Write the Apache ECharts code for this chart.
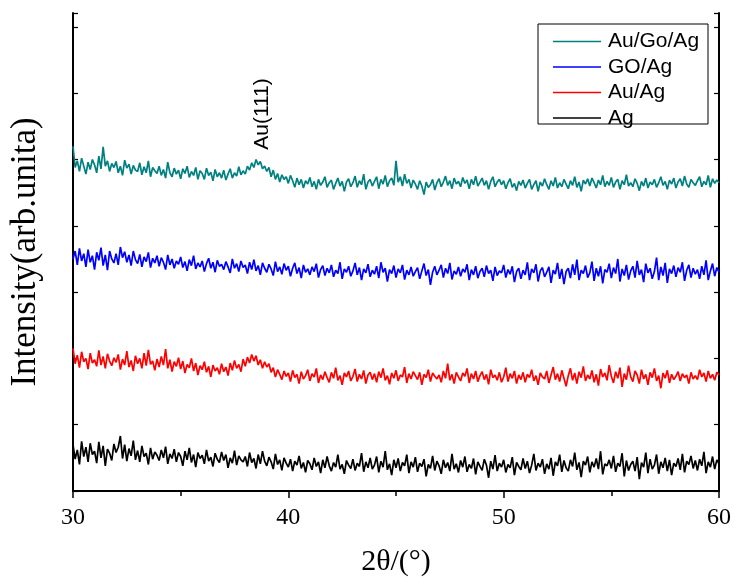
<!DOCTYPE html>
<html>
<head>
<meta charset="utf-8">
<script src="https://cdn.jsdelivr.net/npm/echarts@6/dist/echarts.min.js"></script>
<style>
  html, body { margin: 0; padding: 0; background: #fff; }
  #chart { width: 734px; height: 578px; }
</style>
</head>
<body>
<div id="chart"></div>
<script>
// 2theta grid (deg)
var twoTheta = [
  30.0,30.1,30.2,30.3,30.4,30.5,30.6,30.7,30.8,30.9,
  31.0,31.1,31.2,31.3,31.4,31.5,31.6,31.7,31.8,31.9,
  32.0,32.1,32.2,32.3,32.4,32.5,32.6,32.7,32.8,32.9,
  33.0,33.1,33.2,33.3,33.4,33.5,33.6,33.7,33.8,33.9,
  34.0,34.1,34.2,34.3,34.4,34.5,34.6,34.7,34.8,34.9,
  35.0,35.1,35.2,35.3,35.4,35.5,35.6,35.7,35.8,35.9,
  36.0,36.1,36.2,36.3,36.4,36.5,36.6,36.7,36.8,36.9,
  37.0,37.1,37.2,37.3,37.4,37.5,37.6,37.7,37.8,37.9,
  38.0,38.1,38.2,38.3,38.4,38.5,38.6,38.7,38.8,38.9,
  39.0,39.1,39.2,39.3,39.4,39.5,39.6,39.7,39.8,39.9,
  40.0,40.1,40.2,40.3,40.4,40.5,40.6,40.7,40.8,40.9,
  41.0,41.1,41.2,41.3,41.4,41.5,41.6,41.7,41.8,41.9,
  42.0,42.1,42.2,42.3,42.4,42.5,42.6,42.7,42.8,42.9,
  43.0,43.1,43.2,43.3,43.4,43.5,43.6,43.7,43.8,43.9,
  44.0,44.1,44.2,44.3,44.4,44.5,44.6,44.7,44.8,44.9,
  45.0,45.1,45.2,45.3,45.4,45.5,45.6,45.7,45.8,45.9,
  46.0,46.1,46.2,46.3,46.4,46.5,46.6,46.7,46.8,46.9,
  47.0,47.1,47.2,47.3,47.4,47.5,47.6,47.7,47.8,47.9,
  48.0,48.1,48.2,48.3,48.4,48.5,48.6,48.7,48.8,48.9,
  49.0,49.1,49.2,49.3,49.4,49.5,49.6,49.7,49.8,49.9,
  50.0,50.1,50.2,50.3,50.4,50.5,50.6,50.7,50.8,50.9,
  51.0,51.1,51.2,51.3,51.4,51.5,51.6,51.7,51.8,51.9,
  52.0,52.1,52.2,52.3,52.4,52.5,52.6,52.7,52.8,52.9,
  53.0,53.1,53.2,53.3,53.4,53.5,53.6,53.7,53.8,53.9,
  54.0,54.1,54.2,54.3,54.4,54.5,54.6,54.7,54.8,54.9,
  55.0,55.1,55.2,55.3,55.4,55.5,55.6,55.7,55.8,55.9,
  56.0,56.1,56.2,56.3,56.4,56.5,56.6,56.7,56.8,56.9,
  57.0,57.1,57.2,57.3,57.4,57.5,57.6,57.7,57.8,57.9,
  58.0,58.1,58.2,58.3,58.4,58.5,58.6,58.7,58.8,58.9,
  59.0,59.1,59.2,59.3,59.4,59.5,59.6,59.7,59.8,59.9,
  60.0
];

// intensities, already offset for the stacked display
var auGoAg = [
  520,488,498,482,502,490,478,496,485,500,
  492,480,505,486,519,490,498,482,494,488,
  497,480,490,476,499,487,493,478,491,484,
  482,495,477,489,480,498,474,488,483,479,
  490,476,485,472,496,480,474,487,478,484,
  471,486,479,490,473,482,476,488,470,483,
  479,470,487,476,481,468,485,474,480,472,
  484,469,478,486,472,480,475,489,477,483,
  478,490,484,495,488,500,492,497,486,490,
  482,488,474,484,470,479,466,477,470,474,
  464,476,468,458,472,462,470,457,468,463,
  473,459,467,455,470,461,466,474,458,465,
  469,455,464,472,460,467,452,466,471,459,
  465,475,458,468,462,478,455,466,470,460,
  467,474,456,470,463,476,459,468,472,461,
  498,466,474,460,478,464,470,457,469,463,
  455,468,460,447,466,458,462,470,454,465,
  471,459,466,475,461,468,456,472,463,467,
  459,473,464,469,456,470,462,475,460,466,
  472,461,468,455,467,474,459,466,470,462,
  468,456,465,471,458,464,453,467,461,469,
  457,464,470,455,462,468,452,466,460,471,
  462,455,468,460,473,457,465,459,470,463,
  456,468,461,474,458,466,452,469,463,471,
  460,472,465,457,469,462,476,459,467,461,
  473,458,466,470,455,468,462,477,460,465,
  459,471,464,453,467,460,472,457,466,462,
  470,458,465,474,461,467,455,469,463,472,
  457,466,471,460,475,463,458,470,465,461,
  468,474,459,467,462,476,458,471,464,469,
  465
];

var goAg = [
  350,362,341,366,347,358,338,364,345,355,
  334,360,348,367,340,356,333,362,350,344,
  358,341,368,352,361,345,356,340,362,349,
  343,357,338,353,346,360,337,351,344,355,
  339,352,345,334,356,341,350,336,347,342,
  353,337,346,332,349,340,355,335,344,338,
  347,331,343,351,336,345,330,348,339,342,
  334,346,338,329,350,336,343,331,347,337,
  341,328,345,334,349,332,340,326,344,336,
  330,342,335,325,346,331,338,327,343,333,
  339,324,336,344,328,337,321,341,330,335,
  326,338,331,343,322,334,340,325,336,329,
  341,323,333,328,345,320,335,330,339,324,
  332,344,326,337,318,335,329,342,323,333,
  327,339,321,345,330,336,316,334,328,340,
  322,335,329,341,319,333,326,338,324,331,
  337,320,332,343,325,334,311,330,339,326,
  333,341,322,336,328,344,319,332,327,338,
  324,335,330,342,318,334,326,339,321,331,
  336,323,340,328,333,317,338,325,332,329,
  341,322,334,327,339,315,331,336,320,333,
  326,345,318,335,329,342,316,332,337,323,
  330,338,314,333,327,344,320,335,312,331,
  336,321,342,326,349,318,333,328,340,322,
  329,346,317,336,324,339,313,334,330,343,
  321,337,328,350,316,335,325,341,319,332,
  339,322,347,326,334,315,343,329,336,320,
  331,352,318,338,325,344,314,335,328,340,
  323,337,330,345,317,333,341,322,336,327,
  334,320,339,326,348,318,332,343,324,337,
  330
];

var auAg = [
  215,192,205,186,210,195,200,184,208,193,
  198,188,212,190,203,185,207,196,189,201,
  194,206,183,199,190,211,187,197,181,204,
  192,200,185,208,189,213,191,196,182,199,
  187,203,190,214,185,198,180,195,188,201,
  184,196,178,191,186,200,181,193,175,189,
  183,195,179,188,172,190,181,186,176,192,
  180,187,174,193,182,197,185,191,180,199,
  188,202,193,206,196,204,190,198,185,195,
  187,192,179,186,172,183,176,168,181,173,
  178,165,182,171,176,162,180,169,174,183,
  166,177,172,185,163,175,168,180,171,164,
  179,170,186,167,174,160,178,172,181,166,
  173,184,165,176,169,182,162,175,179,168,
  177,164,180,171,185,167,174,161,178,170,
  182,166,175,172,187,163,177,169,180,174,
  168,179,160,176,171,183,165,178,173,169,
  175,164,181,170,192,167,176,162,179,172,
  166,178,173,185,163,177,169,181,165,174,
  180,168,176,161,183,171,175,167,179,164,
  172,186,165,177,170,181,162,175,168,179,
  164,176,171,183,166,174,160,178,172,169,
  181,163,175,187,168,177,165,182,170,158,
  174,185,167,178,162,180,171,188,166,175,
  169,182,164,176,159,184,172,178,167,190,
  173,163,180,170,186,157,177,168,189,172,
  165,181,175,162,183,169,176,160,179,171,
  185,166,174,155,178,170,182,163,176,168,
  173,180,166,177,171,175,162,179,169,174,
  168,183,172,178,165,181,170,176,167,179,
  175
];

var ag = [
  70,48,62,40,75,52,66,44,72,55,
  60,42,74,50,68,38,63,57,46,71,
  58,66,83,49,70,45,64,53,76,47,
  61,44,68,52,57,40,65,48,59,54,
  46,62,50,67,41,56,49,63,44,58,
  52,38,60,47,65,43,55,36,58,49,
  54,41,62,45,51,37,57,48,43,59,
  46,55,35,50,42,61,39,53,47,44,
  52,37,58,43,49,34,55,41,60,45,
  38,51,44,33,56,40,47,31,50,42,
  36,48,30,45,39,53,34,43,28,46,
  41,32,50,37,44,27,47,35,52,38,
  30,43,36,55,33,40,26,46,39,34,
  48,31,42,37,57,29,44,35,50,33,
  39,52,28,45,36,60,32,41,24,47,
  35,49,30,43,38,55,27,44,36,51,
  29,42,37,48,22,40,34,53,31,45,
  38,26,47,35,43,30,56,33,41,28,
  46,36,52,29,40,34,49,25,44,37,
  31,48,39,20,45,33,54,30,42,36,
  47,28,40,35,51,24,43,37,32,49,
  34,45,27,39,56,31,42,36,48,26,
  41,33,50,23,44,38,55,29,46,35,
  30,47,37,58,32,43,21,45,39,52,
  28,44,36,49,33,60,25,41,38,47,
  34,53,29,42,37,57,22,46,31,40,
  45,30,51,18,43,36,58,27,48,33,
  39,55,26,44,35,50,30,47,24,42,
  37,49,32,56,28,45,40,53,34,46,
  31,48,38,59,27,44,36,52,33,47,
  41
];

var seriesNames = ['Au/Go/Ag', 'GO/Ag', 'Au/Ag', 'Ag'];
var seriesColors = ['#008080', '#0000ff', '#ff0000', '#000000'];
var seriesData = [auGoAg, goAg, auAg, ag];

function toPairs(ys) {
    var out = [];
    for (var i = 0; i < ys.length; i++) {
        out.push([twoTheta[i], ys[i]]);
    }
    return out;
}

var chart = echarts.init(document.getElementById('chart'));

var series = [];
for (var k = 0; k < seriesNames.length; k++) {
    series.push({
        name: seriesNames[k],
        type: 'line',
        data: toPairs(seriesData[k]),
        showSymbol: false,
        symbol: 'none',
        color: seriesColors[k],
        lineStyle: { width: 1.7, color: seriesColors[k] }
    });
}

var serif = 'Liberation Serif';
var sans = 'Liberation Sans';

var option = {
    animation: false,
    backgroundColor: '#fff',
    grid: { left: 73, right: 15, top: 13, bottom: 87, containLabel: false, outerBoundsMode: 'none' },
    xAxis: [
        {
            type: 'value',
            min: 30,
            max: 60,
            interval: 10,
            position: 'bottom',
            name: '2θ/(°)',
            nameLocation: 'middle',
            nameGap: 56,
            nameTextStyle: { fontFamily: serif, fontSize: 30, color: '#000' },
            axisLine: { lineStyle: { color: '#000', width: 2 } },
            axisTick: { inside: false, length: 7, lineStyle: { color: '#000', width: 1.5 } },
            minorTick: { show: true, splitNumber: 2, length: 5, lineStyle: { color: '#000', width: 1.5 } },
            axisLabel: { fontFamily: serif, fontSize: 24, color: '#000', margin: 15 },
            splitLine: { show: false }
        },
        {
            type: 'value',
            min: 30,
            max: 60,
            position: 'top',
            axisLine: { lineStyle: { color: '#000', width: 2 } },
            axisTick: { show: false },
            axisLabel: { show: false },
            splitLine: { show: false }
        }
    ],
    yAxis: [
        {
            type: 'value',
            min: 0,
            max: 721,
            interval: 100,
            position: 'left',
            name: 'Intensity(arb.unita)',
            nameLocation: 'middle',
            nameGap: 30,
            nameTextStyle: { fontFamily: serif, fontSize: 35, color: '#000' },
            axisLine: { show: true, lineStyle: { color: '#000', width: 2 } },
            axisTick: { show: true, inside: true, length: 5, lineStyle: { color: '#000', width: 1.2 } },
            axisLabel: { show: false },
            splitLine: { show: false }
        },
        {
            type: 'value',
            min: 0,
            max: 721,
            interval: 100,
            position: 'right',
            axisLine: { show: true, lineStyle: { color: '#000', width: 2 } },
            axisTick: { show: true, inside: true, length: 5, lineStyle: { color: '#000', width: 1.2 } },
            axisLabel: { show: false },
            splitLine: { show: false }
        }
    ],
    legend: {
        data: seriesNames,
        orient: 'vertical',
        left: 553,
        top: 31,
        padding: 0,
        icon: 'rect',
        itemWidth: 48,
        itemHeight: 1.5,
        itemGap: 4.5,
        textStyle: { fontFamily: sans, fontSize: 21, lineHeight: 21, color: '#000', padding: [0, 0, 0, 2] }
    },
    graphic: [
        {
            type: 'rect',
            z: -1,
            shape: { x: 538, y: 24, width: 170, height: 100 },
            style: { fill: '#fff', stroke: '#000', lineWidth: 1 }
        },
        {
            type: 'text',
            x: 262,
            y: 114,
            rotation: Math.PI / 2,
            style: {
                text: 'Au(111)',
                fontFamily: sans,
                fontSize: 21,
                fill: '#000',
                align: 'center',
                verticalAlign: 'middle'
            }
        }
    ],
    series: series
};

chart.setOption(option);
</script>
</body>
</html>
